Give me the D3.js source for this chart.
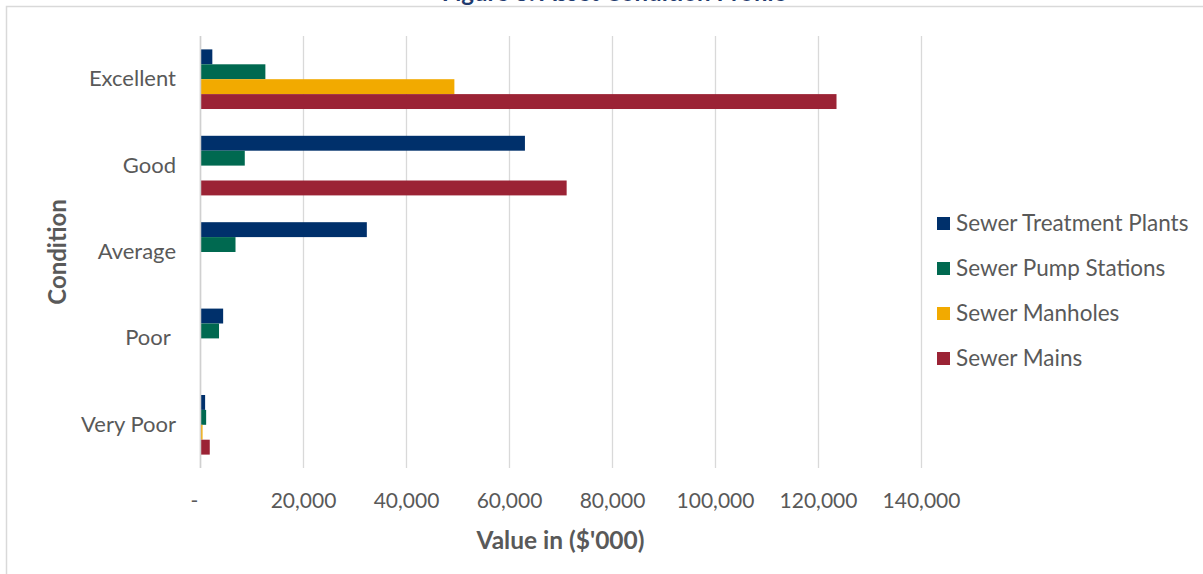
<!DOCTYPE html>
<html>
<head>
<meta charset="utf-8">
<script src="https://cdn.jsdelivr.net/npm/d3@7/dist/d3.min.js"></script>
<style>
  html, body { margin: 0; padding: 0; background: #ffffff; }
  svg { display: block; }
  text { font-family: Lato, "Open Sans", sans-serif; }
</style>
</head>
<body>
<svg id="chart" width="1203" height="574"></svg>
<script>
// Asset value by condition rating, in $'000
const conditions = ["Excellent", "Good", "Average", "Poor ", "Very Poor"];
const seriesNames = ["Sewer Treatment Plants", "Sewer Pump Stations", "Sewer Manholes", "Sewer Mains"];
const seriesColors = ["#00306b", "#006950", "#f2aa00", "#9b2335"];
const treatmentPlants = [2200, 62900, 32200, 4300, 800];
const pumpStations = [12500, 8500, 6700, 3500, 1000];
const manholes = [49200, 0, 0, 0, 300];
const mains = [123400, 71000, 0, 0, 1700];
const xTicks = [0, 20000, 40000, 60000, 80000, 100000, 120000, 140000];
const titleText = "Figure 8: Asset Condition Profile";

const values = [treatmentPlants, pumpStations, manholes, mains];
const rows = conditions.map((c, i) => ({
  condition: c,
  bars: seriesNames.map((s, k) => ({ series: s, value: values[k][i], color: seriesColors[k] }))
}));

const svg = d3.select("#chart");
const plot = { left: 200, right: 921, top: 36, bottom: 468 };

// chart frame
svg.append("rect")
  .attr("x", 6.5).attr("y", 6.5)
  .attr("width", 1300).attr("height", 700)
  .attr("fill", "#ffffff")
  .attr("stroke", "#d9d9d9").attr("stroke-width", 1.5);

// title sits above the frame
svg.append("text")
  .attr("x", 614).attr("y", 1)
  .attr("text-anchor", "middle")
  .attr("font-size", 24).attr("font-weight", 700)
  .attr("fill", "#1f3a6e")
  .text(titleText);

const x = d3.scaleLinear().domain([0, 140000]).range([plot.left, plot.right]);
const y = d3.scaleBand().domain(conditions).range([plot.top, plot.bottom])
  .paddingInner(0.31).paddingOuter(0.155);
const ySub = d3.scaleBand().domain(seriesNames).range([0, y.bandwidth()]);

// vertical gridlines
svg.append("g")
  .selectAll("line")
  .data(xTicks)
  .join("line")
  .attr("x1", d => Math.round(x(d)) + 0.5).attr("x2", d => Math.round(x(d)) + 0.5)
  .attr("y1", plot.top).attr("y2", plot.bottom)
  .attr("stroke", "#d9d9d9").attr("stroke-width", 1.3);

// bars
const groups = svg.append("g")
  .selectAll("g")
  .data(rows)
  .join("g")
  .attr("transform", d => `translate(0,${y(d.condition)})`);

groups.selectAll("rect")
  .data(d => d.bars.filter(b => b.value > 0))
  .join("rect")
  .attr("x", x(0) + 1)
  .attr("y", d => ySub(d.series))
  .attr("width", d => Math.max(1, x(d.value) - x(0)))
  .attr("height", ySub.bandwidth())
  .attr("fill", d => d.color);

// category axis line
svg.append("line")
  .attr("x1", x(0) + 0.5).attr("x2", x(0) + 0.5)
  .attr("y1", plot.top).attr("y2", plot.bottom)
  .attr("stroke", "#d0d0d0").attr("stroke-width", 1.5);

// value axis labels
const xAxis = d3.axisBottom(x)
  .tickValues(xTicks)
  .tickSize(0)
  .tickPadding(0)
  .tickFormat(d => d === 0 ? "-" : d3.format(",")(d));

const gx = svg.append("g")
  .attr("transform", `translate(0,${plot.bottom})`)
  .call(xAxis);
gx.select(".domain").remove();
gx.selectAll("text")
  .attr("y", 40)
  .attr("dy", 0)
  .attr("dx", d => d === 0 ? -6 : 0)
  .attr("font-size", 21)
  .attr("font-family", "Lato, sans-serif")
  .attr("fill", "#595959");

// category labels
const yAxis = d3.axisLeft(y).tickSize(0).tickPadding(24);
const gy = svg.append("g")
  .attr("transform", `translate(${plot.left},0)`)
  .call(yAxis);
gy.select(".domain").remove();
gy.selectAll("text")
  .style("white-space", "pre")
  .attr("font-size", 22)
  .attr("font-family", "Lato, sans-serif")
  .attr("fill", "#595959");

// axis titles
svg.append("text")
  .attr("x", (plot.left + plot.right) / 2).attr("y", 549)
  .attr("text-anchor", "middle")
  .attr("font-size", 24.5).attr("font-weight", 700)
  .attr("fill", "#595959")
  .text("Value in ($'000)");

svg.append("text")
  .attr("transform", "translate(66,252) rotate(-90)")
  .attr("text-anchor", "middle")
  .attr("font-size", 24).attr("font-weight", 700)
  .attr("fill", "#595959")
  .text("Condition");

// legend
const legend = svg.append("g")
  .selectAll("g")
  .data(seriesNames)
  .join("g")
  .attr("transform", (d, i) => `translate(937,${223 + i * 45})`);

legend.append("rect")
  .attr("x", 0).attr("y", -6)
  .attr("width", 13).attr("height", 13)
  .attr("fill", (d, i) => seriesColors[i]);

legend.append("text")
  .attr("x", 19).attr("y", 0)
  .attr("dy", "0.35em")
  .attr("font-size", 22.5)
  .attr("fill", "#595959")
  .text(d => d);
</script>
</body>
</html>
